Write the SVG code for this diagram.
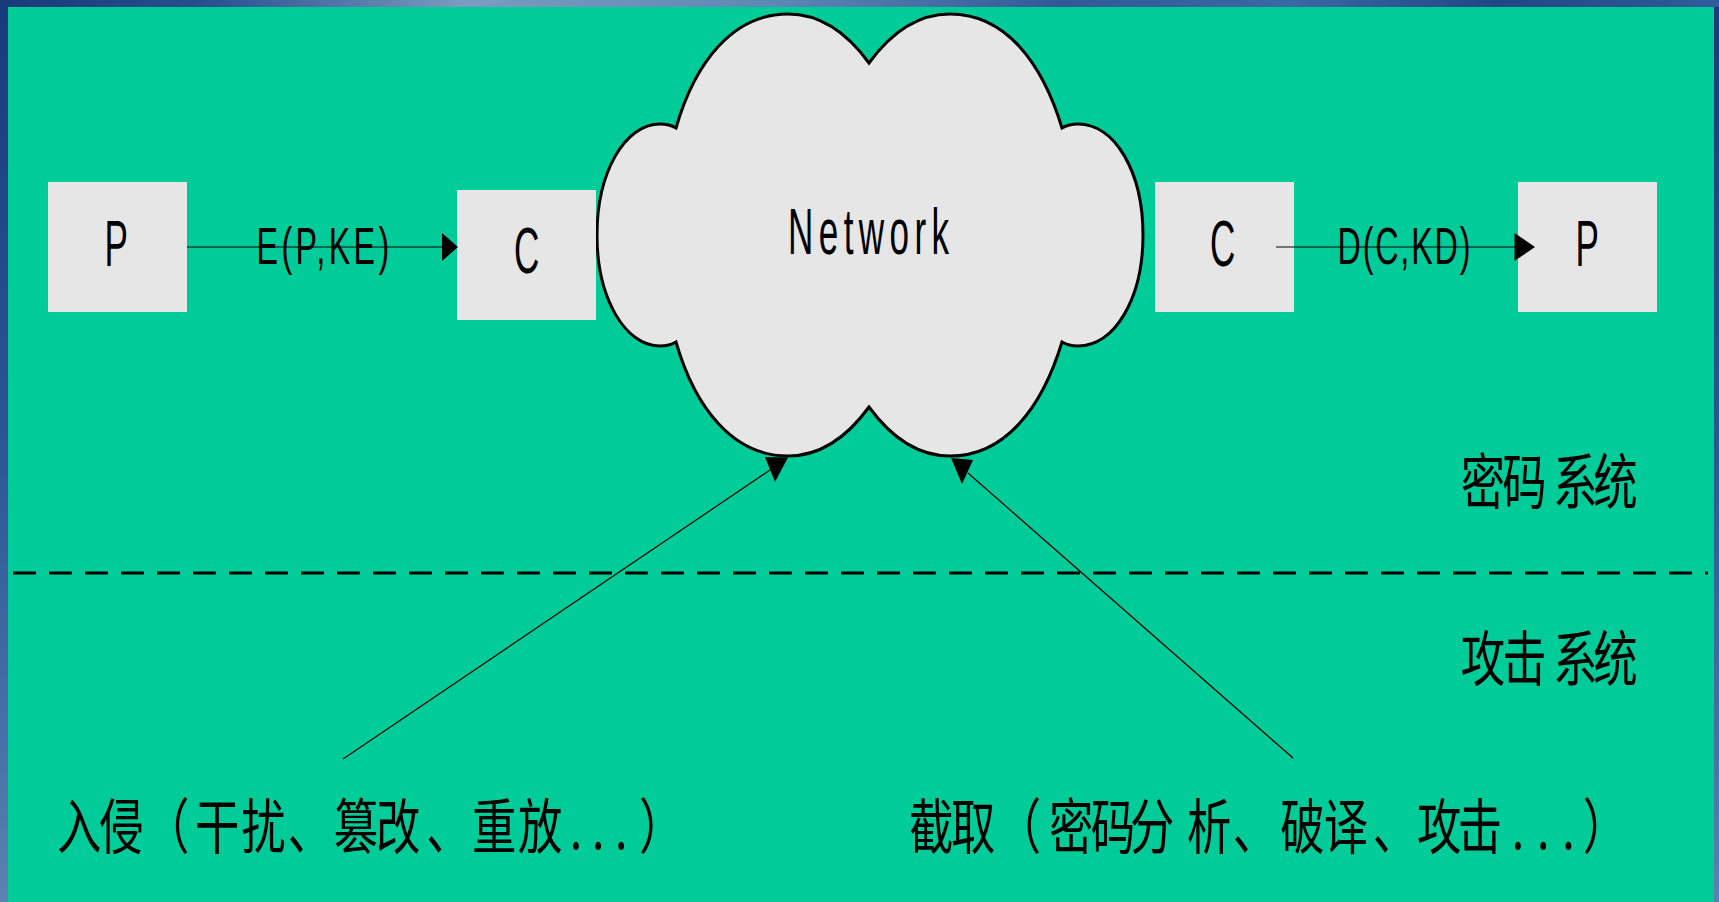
<svg xmlns="http://www.w3.org/2000/svg" width="1719" height="902" viewBox="0 0 1719 902">
<style>
.box{fill:#e6e6e6}
.lat{font-family:"Liberation Sans",Arial,sans-serif;fill:#000}
.big{font-size:65px}
.lab{font-size:52px}
.cjk{font-family:"Noto Sans CJK SC","Liberation Sans",sans-serif;font-size:60px;fill:#000}
.thin{stroke:#000;stroke-width:1.2;fill:none}
.head{fill:#000}
</style>
<defs>
<linearGradient id="top" x1="0" y1="0" x2="1" y2="0">
<stop offset="0" stop-color="#173a7a"/><stop offset=".12" stop-color="#27508e"/><stop offset=".27" stop-color="#7a9cc0"/><stop offset=".45" stop-color="#5c88b4"/><stop offset=".62" stop-color="#2f5a96"/><stop offset=".75" stop-color="#3a6aa2"/><stop offset=".87" stop-color="#1f4788"/><stop offset="1" stop-color="#2f5c9a"/>
</linearGradient>
<linearGradient id="side" x1="0" y1="0" x2="0" y2="1">
<stop offset="0" stop-color="#173a7a"/><stop offset=".5" stop-color="#2b5794"/><stop offset=".85" stop-color="#4a74a8"/><stop offset="1" stop-color="#5c82b0"/>
</linearGradient>
</defs>
<g id="background">
<rect x="0" y="0" width="1719" height="902" fill="#2f5c9a"/>
<rect x="0" y="0" width="8" height="902" fill="url(#side)"/>
<rect x="1714" y="0" width="5" height="902" fill="url(#side)"/>
<rect x="0" y="0" width="1719" height="7" fill="url(#top)"/>
<rect x="8" y="7" width="1706" height="895" fill="#00cc99"/>
</g>
<g id="cloud">
<path d="M869 63C845 30 817 14 788 14C733 14 695 62 676 128C671 125 665 124 660 124C625 124 597 172 597 235C597 298 625 346 660 346C665 346 671 345 676 342C695 408 733 456 788 456C817 456 845 440 869 407C893 440 921 456 950 456C1005 456 1042 408 1062 342C1067 345 1073 346 1078 346C1115 346 1143 298 1143 235C1143 172 1115 124 1078 124C1073 124 1067 125 1062 128C1042 62 1005 14 950 14C921 14 893 30 869 63Z" fill="#e6e6e6" stroke="#000" stroke-width="3"/>
<text class="lat big" transform="translate(788 254) scale(.54 1)" letter-spacing="10">Network</text>
</g>
<g id="p-left"><rect class="box" x="48" y="182" width="139" height="130"/><text class="lat big" transform="translate(104.500 266) scale(.54 1)">P</text></g>
<g id="c-left"><rect class="box" x="457" y="190" width="139" height="130"/><text class="lat big" transform="translate(514 273) scale(.54 1)">C</text></g>
<g id="c-right"><rect class="box" x="1155" y="182" width="139" height="130"/><text class="lat big" transform="translate(1210 266) scale(.54 1)">C</text></g>
<g id="p-right"><rect class="box" x="1518" y="182" width="139" height="130"/><text class="lat big" transform="translate(1575.500 266) scale(.54 1)">P</text></g>
<g id="connectors">
<line class="thin" x1="187" y1="247" x2="442" y2="247"/>
<polygon class="head" points="442,233 458,247 442,261"/>
<line class="thin" x1="1276" y1="247" x2="1515" y2="247"/>
<polygon class="head" points="1514.500,233 1535,247 1514.500,261"/>
<line class="thin" x1="343" y1="759" x2="770" y2="470"/>
<polygon class="head" points="765,457 788,457.500 775,482"/>
<line class="thin" x1="1293" y1="758" x2="968" y2="473"/>
<polygon class="head" points="951,458 973,460 962,484"/>
<line x1="13" y1="573" x2="1708" y2="573" stroke="#000" stroke-width="3" stroke-dasharray="23 13"/>
</g>
<g id="labels">
<text class="lat lab" transform="translate(256.500 264) scale(.62 1)" letter-spacing="5.500">E(P,KE)</text>
<text class="lat lab" transform="translate(1337.500 264) scale(.62 1)" letter-spacing="3">D(C,KD)</text>
<text class="cjk" transform="scale(.74 1)" x="1974 2030 2088 2099 2153" y="504">密码 系统</text>
<text class="cjk" transform="scale(.74 1)" x="1974 2030 2088 2099 2153" y="681">攻击 系统</text>
<text class="cjk" transform="scale(.74 1)" x="77 134 196 263.500 326 389 451 508 576 638 700 770 800 831 863.500" y="849">入侵（干扰、篡改、重放...）</text>
<text class="cjk" transform="scale(.74 1)" x="1228.400 1285 1347 1417.600 1474 1527 1581 1604 1666 1730 1789 1855 1915 1970 2027 2043 2077 2111 2139" y="849">截取（密码分 析、破译、攻击 ...）</text>
</g>
</svg>
